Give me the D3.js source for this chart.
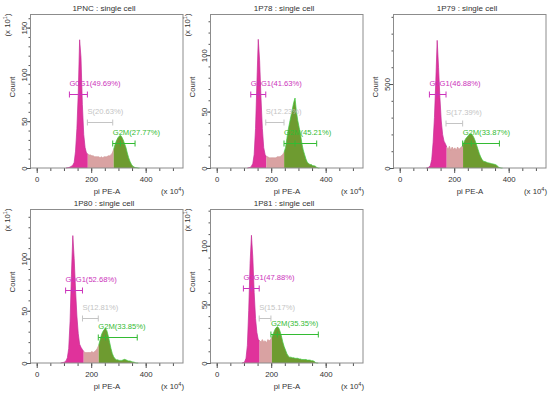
<!DOCTYPE html>
<html>
<head>
<meta charset="utf-8">
<script src="https://cdn.jsdelivr.net/npm/d3@7"></script>
<style>
  body { margin: 0; background: #fff; }
  text { font-family: "Liberation Sans", Arial, sans-serif; fill: #333; }
</style>
</head>
<body>
<svg id="chart" width="554" height="394"></svg>
<script>
// samples, one histogram each
const sampleNames = ["1PNC", "1P78", "1P79", "1P80", "1P81"];
const binWidth = 5;                       // pi PE-A units (x10^4)
const binFirst = [110, 115, 100, 90, 95]; // left edge of the first bin

// counts per bin (y units of each panel)
const countsPNC = [0.3, 0.5, 1, 2, 3, 6, 18, 42, 80, 137, 118, 68, 36, 22, 16, 15, 14, 14, 13, 13,
  12, 12, 12, 12, 11, 12, 11, 12, 12, 12, 13, 13, 14, 16, 20, 25, 29, 32, 34, 35,
  33, 30, 26, 22, 16, 11, 7, 4, 2, 1, 0.5, 0.3, 0];
const countsP78 = [0.3, 0.5, 1.5, 4, 12, 35, 75, 114, 95, 62, 35, 18, 12, 10, 10, 9, 9, 9, 9, 9,
  9, 10, 10, 10, 11, 12, 14, 18, 26, 34, 40, 46, 52, 58, 62, 50, 42, 36, 30, 22,
  16, 12, 8, 5, 4, 3, 3, 2, 2, 1.5, 0.5, 0];
const countsP79 = [2, 5, 15, 50, 150, 300, 520, 760, 600, 420, 280, 200, 160, 145, 125, 110, 130, 105, 125, 110,
  120, 105, 125, 110, 120, 125, 140, 160, 175, 185, 195, 200, 205, 195, 180, 160, 135, 110, 85, 65,
  50, 40, 38, 35, 32, 30, 28, 26, 24, 22, 20, 14, 6, 2, 0];
const countsP80 = [0.3, 0.5, 1, 2, 5, 14, 40, 85, 122, 100, 70, 45, 28, 18, 15, 13, 11, 10, 10, 10,
  10, 10, 11, 10, 11, 12, 14, 17, 22, 27, 30, 32, 33, 31, 26, 20, 14, 9, 6, 4,
  3, 3, 2.5, 2.5, 2.5, 3, 3.5, 3, 2.5, 2, 2, 1.5, 1, 0.8, 0.3, 0];
const countsP81 = [0.3, 1, 4, 15, 45, 85, 109, 90, 60, 38, 26, 20, 19, 18, 20, 18, 19, 17, 20, 19,
  20, 22, 25, 28, 30, 31, 30, 27, 23, 18, 14, 11, 8, 6, 5, 5, 4.5, 4.5, 4, 4,
  4, 3.5, 3.5, 3, 3, 3, 3, 2.5, 2.5, 2.5, 2, 2, 1.5, 0.5, 0];
const allCounts = [countsPNC, countsP78, countsP79, countsP80, countsP81];

// gates [from, to] in pi PE-A units and the height the marker sits at
const g0g1Gate = [[120, 186], [125, 180], [109, 170], [106, 168], [98, 156]];
const sGate    = [[186, 279], [180, 247], [170, 231], [168, 226], [156, 199]];
const g2mGate  = [[279, 361], [247, 367], [231, 366], [226, 369], [199, 373]];
const g0g1Level = [79, 66, 438, 70, 64];
const sLevel    = [49, 40.5, 265, 43.5, 38.5];
const g2mLevel  = [27, 22.5, 150, 24.5, 25];
const g0g1Pct = ["49.69", "41.63", "46.88", "52.68", "47.88"];
const sPct    = ["20.63", "12.23", "17.39", "12.81", "15.17"];
const g2mPct  = ["27.77", "45.21", "33.87", "33.85", "35.35"];

// axes
const xDomain = [-21, 537];
const xMajor = [0, 200, 400];
const xMinor = [0, 50, 100, 150, 200, 250, 300, 350, 400, 450, 500];
const yTop   = [164, 136, 914, 147, 131];
const yMajor = [50, 50, 500, 50, 50];
const yMinor = [10, 10, 100, 10, 10];
const yExp   = ["1", "1", "", "1", "1"];

const colX = [0, 180, 363];
const rowY = [0, 195];
const plot = { left: 31, right: 183, top: 14.5, bottom: 168 };

const svg = d3.select("#chart");

sampleNames.forEach((name, i) => {
  const g = svg.append("g")
    .attr("transform", `translate(${colX[i % 3]},${rowY[Math.floor(i / 3)]})`);

  const x = d3.scaleLinear().domain(xDomain).range([plot.left, plot.right]);
  const y = d3.scaleLinear().domain([0, yTop[i]]).range([plot.bottom, plot.top]);

  const bins = allCounts[i].map((c, k) => [binFirst[i] + k * binWidth, c]);
  // bin centres, closed off to zero on both sides
  const pts = bins.map(b => [b[0] + binWidth / 2, b[1]]);
  pts.unshift([binFirst[i] - binWidth / 2, 0]);
  pts.push([pts[pts.length - 1][0] + binWidth, 0]);

  // histogram, coloured by gate
  const regions = [
    { lo: -Infinity, hi: sGate[i][0], fill: "#e0329b", stroke: "#c42d96" },
    { lo: sGate[i][0], hi: g2mGate[i][0], fill: "#d9a2a2", stroke: "#d29a9a" },
    { lo: g2mGate[i][0], hi: Infinity, fill: "#6e9b30", stroke: "#3fcc3f" }
  ];
  const area = d3.area().x(d => x(d[0])).y0(y(0)).y1(d => y(d[1]));
  const line = d3.line().x(d => x(d[0])).y(d => y(d[1]));

  regions.forEach(r => {
    const idx = pts.map((p, k) => k).filter(k => pts[k][0] >= r.lo && pts[k][0] < r.hi);
    if (!idx.length) return;
    const end = Math.min(idx[idx.length - 1] + 1, pts.length - 1);
    const part = pts.slice(idx[0], end + 1);
    g.append("path").attr("d", area(part)).attr("fill", r.fill);
    g.append("path").attr("d", line(part)).attr("fill", "none")
      .attr("stroke", r.stroke).attr("stroke-width", 0.7);
  });

  // gate markers
  const gates = [
    { range: g0g1Gate[i], level: g0g1Level[i], text: `G0G1(${g0g1Pct[i]}%)`, color: "#cc33bb", mid: true },
    { range: sGate[i], level: sLevel[i], text: `S(${sPct[i]}%)`, color: "#c4c4c4", mid: false },
    { range: g2mGate[i], level: g2mLevel[i], text: `G2M(${g2mPct[i]}%)`, color: "#33bb33", mid: true }
  ];
  gates.forEach(gt => {
    const yy = Math.round(y(gt.level)) + 0.5;
    const x0 = x(gt.range[0]), x1 = x(gt.range[1]);
    const mg = g.append("g").attr("stroke", gt.color).attr("stroke-width", 1);
    mg.append("line").attr("x1", x0).attr("x2", x1).attr("y1", yy).attr("y2", yy);
    mg.append("line").attr("x1", x0).attr("x2", x0).attr("y1", yy - 3).attr("y2", yy + 3);
    mg.append("line").attr("x1", x1).attr("x2", x1).attr("y1", yy - 3).attr("y2", yy + 3);
    if (gt.mid) {
      const inGate = bins.filter(b => b[0] >= gt.range[0] && b[0] < gt.range[1]);
      const peak = d3.greatest(inGate, b => b[1]);
      const xm = x(peak[0] + binWidth / 2);
      mg.append("line").attr("x1", xm).attr("x2", xm).attr("y1", yy - 3).attr("y2", yy + 3);
    }
    g.append("text").attr("x", x0).attr("y", yy - 9)
      .style("font-size", "7.6px").style("fill", gt.color).text(gt.text);
  });

  // x axis
  const xAxisG = g.append("g").attr("transform", `translate(0,${plot.bottom})`);
  xAxisG.append("g")
    .call(d3.axisBottom(x).tickValues(xMinor).tickSize(3).tickFormat(""))
    .call(a => a.select(".domain").remove());
  xAxisG.append("g")
    .call(d3.axisBottom(x).tickValues(xMajor).tickSize(5).tickPadding(3))
    .call(a => a.select(".domain").remove())
    .call(a => a.selectAll("text").style("font-size", "7.8px").style("fill", "#333"));
  xAxisG.selectAll("line").attr("stroke", "#555");

  // y axis with rotated labels
  const yAxisG = g.append("g").attr("transform", `translate(${plot.left},0)`);
  yAxisG.append("g")
    .call(d3.axisLeft(y).tickValues(d3.range(0, yTop[i], yMinor[i])).tickSize(2.5).tickFormat(""))
    .call(a => a.select(".domain").remove());
  yAxisG.append("g")
    .call(d3.axisLeft(y).tickValues(d3.range(0, yTop[i], yMajor[i])).tickSize(4.5))
    .call(a => a.select(".domain").remove())
    .call(a => a.selectAll("text")
      .attr("x", null).attr("dy", null)
      .attr("text-anchor", "middle")
      .attr("transform", "translate(-4.5,0) rotate(-90)")
      .style("font-size", "7.8px").style("fill", "#333"));
  yAxisG.selectAll("line").attr("stroke", "#555");

  // frame
  g.append("rect")
    .attr("x", plot.left - 0.5).attr("y", plot.top)
    .attr("width", plot.right - plot.left + 0.5).attr("height", plot.bottom - plot.top)
    .attr("fill", "none").attr("stroke", "#8c8c8c").attr("stroke-width", 1);

  // titles and axis names
  g.append("text").attr("x", 104).attr("y", 11)
    .attr("text-anchor", "middle").style("font-size", "8px").text(`${name} : single cell`);
  g.append("text").attr("x", 107).attr("y", 193.5)
    .attr("text-anchor", "middle").style("font-size", "7.8px").text("pi PE-A");
  const xe = g.append("text").attr("x", 184).attr("y", 193.5)
    .attr("text-anchor", "end").style("font-size", "7.8px");
  xe.append("tspan").text("(x 10");
  xe.append("tspan").attr("dy", -3).style("font-size", "5.5px").text("4");
  xe.append("tspan").attr("dy", 3).text(")");
  g.append("text").attr("transform", "translate(14.5,87) rotate(-90)")
    .attr("text-anchor", "middle").style("font-size", "7.8px").text("Count");
  if (yExp[i]) {
    const ye = g.append("text").attr("transform", "translate(9.5,25) rotate(-90)")
      .attr("text-anchor", "middle").style("font-size", "7.8px");
    ye.append("tspan").text("(x 10");
    ye.append("tspan").attr("dy", -3).style("font-size", "5.5px").text(yExp[i]);
    ye.append("tspan").attr("dy", 3).text(")");
  }
});
</script>
</body>
</html>
